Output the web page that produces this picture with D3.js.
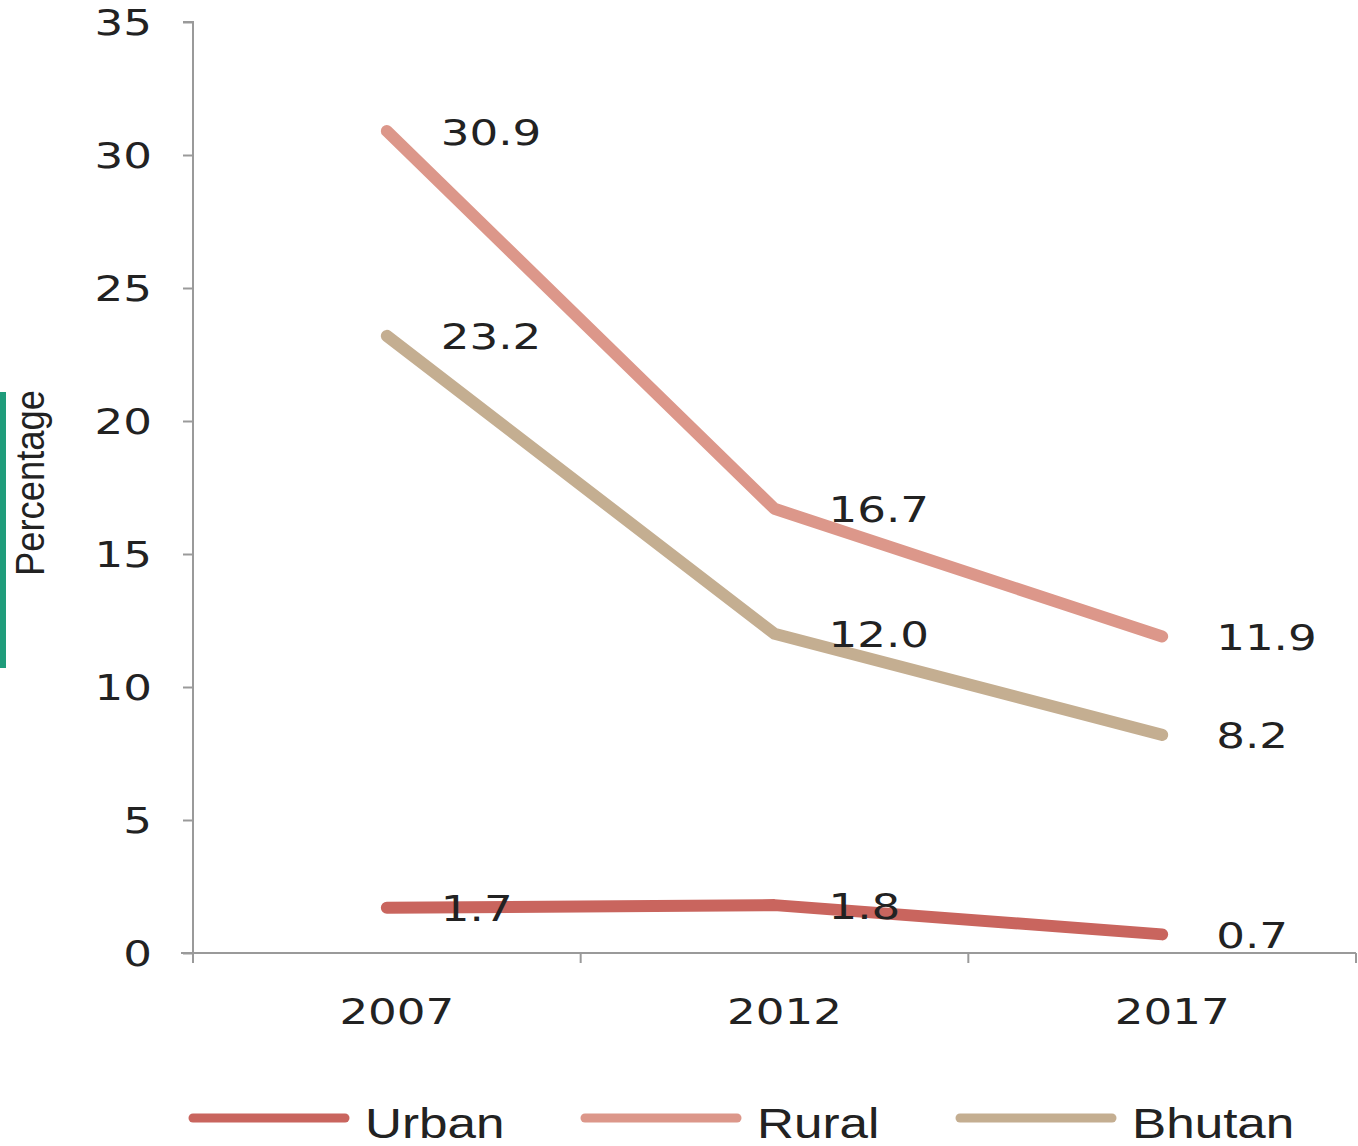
<!DOCTYPE html>
<html><head><meta charset="utf-8">
<script src="https://cdn.jsdelivr.net/npm/d3@7"></script>
<style>body{margin:0;background:#fff}svg{display:block}</style>
</head><body><svg id="c" width="1358" height="1146"></svg>
<script>
const years = ["2007","2012","2017"];
const urban = [1.7,1.8,0.7];
const rural = [30.9,16.7,11.9];
const bhutan = [23.2,12.0,8.2];
const seriesNames = ["Urban","Rural","Bhutan"];
const seriesColors = ["#c9655e","#dc978a","#c4ae91"];
const yTicks = [0,5,10,15,20,25,30,35];
const yTitle = "Percentage";

const series = [urban, rural, bhutan];
const svg = d3.select("#c");
const L = 193, R = 1356, T = 22, B = 953;
const SX = 1.29;
const y = d3.scaleLinear().domain([0,35]).range([B,T]);
const x = d3.scaleBand().domain(years).range([L,R]).padding(0);
const cx = d => x(d) + x.bandwidth()/2;
const axisColor = "#9a9a9a";
const numFont = "'DejaVu Sans', Verdana, sans-serif";
const numSize = 35;

// teal side bar
svg.append("rect").attr("x",0).attr("y",392).attr("width",6).attr("height",276).attr("fill","#1f9c7b");

// y axis
const ya = svg.append("g").attr("transform",`translate(${L},0)`)
  .call(d3.axisLeft(y).tickValues(yTicks).tickSize(10).tickFormat(""));
ya.select(".domain").attr("stroke",axisColor).attr("stroke-width",2).attr("d",`M-10,${T}H0V${B}`);
ya.selectAll(".tick line").attr("stroke",axisColor).attr("stroke-width",2);
svg.append("g").selectAll("text").data(yTicks).join("text")
  .attr("transform",d=>`translate(${L-41},${y(d)}) scale(${SX},1)`)
  .attr("text-anchor","end").attr("dy","0.36em")
  .attr("font-family",numFont).attr("font-size",numSize).attr("fill","#222")
  .text(d=>d);

// x axis
const xa = svg.append("g").attr("transform",`translate(0,${B})`)
  .call(d3.axisBottom(x).tickSize(0).tickFormat(""));
xa.select(".domain").attr("stroke",axisColor).attr("stroke-width",2).attr("d",`M${L-12},0H${R}`);
const bounds = years.map(d=>x(d)).concat([x(years[years.length-1])+x.bandwidth()]);
xa.selectAll("line.b").data(bounds).join("line").attr("class","b")
  .attr("x1",d=>d).attr("x2",d=>d).attr("y1",0).attr("y2",10)
  .attr("stroke",axisColor).attr("stroke-width",2);
svg.append("g").selectAll("text").data(years).join("text")
  .attr("transform",d=>`translate(${cx(d)+10},${1011}) scale(${SX},1)`)
  .attr("text-anchor","middle").attr("dy","0.36em")
  .attr("font-family",numFont).attr("font-size",numSize).attr("fill","#222")
  .text(d=>d);

// y title
svg.append("text").attr("transform","translate(44,483) rotate(-90)")
  .attr("text-anchor","middle").attr("font-family","'Liberation Sans Narrow','Arial Narrow',sans-serif")
  .attr("font-size",40).attr("fill","#222").attr("textLength",186).attr("lengthAdjust","spacingAndGlyphs")
  .text(yTitle);

// lines
const line = d3.line().x((d,i)=>cx(years[i])).y(d=>y(d));
series.forEach((s,k)=>{
  svg.append("path").datum(s).attr("d",line).attr("fill","none")
    .attr("stroke",seriesColors[k]).attr("stroke-width",12)
    .attr("stroke-linecap","round").attr("stroke-linejoin","round");
});
// labels
series.forEach((s,k)=>{
  svg.append("g").selectAll("text").data(s).join("text")
    .attr("transform",(d,i)=>`translate(${cx(years[i])+54},${y(d)+1}) scale(${SX},1)`)
    .attr("dy","0.36em").attr("font-family",numFont).attr("font-size",numSize).attr("fill","#222")
    .text(d=>d.toFixed(1));
});

// legend
const legX = [193,585,960];
const lg = svg.append("g");
seriesNames.forEach((n,k)=>{
  lg.append("line").attr("x1",legX[k]).attr("x2",legX[k]+152).attr("y1",1118).attr("y2",1118)
    .attr("stroke",seriesColors[k]).attr("stroke-width",9).attr("stroke-linecap","round");
  lg.append("text").attr("transform",`translate(${legX[k]+172},1138) scale(1.22,1)`)
    .attr("font-family","'Liberation Sans',Arial,sans-serif").attr("font-size",42).attr("fill","#222")
    .text(n);
});
</script></body></html>
